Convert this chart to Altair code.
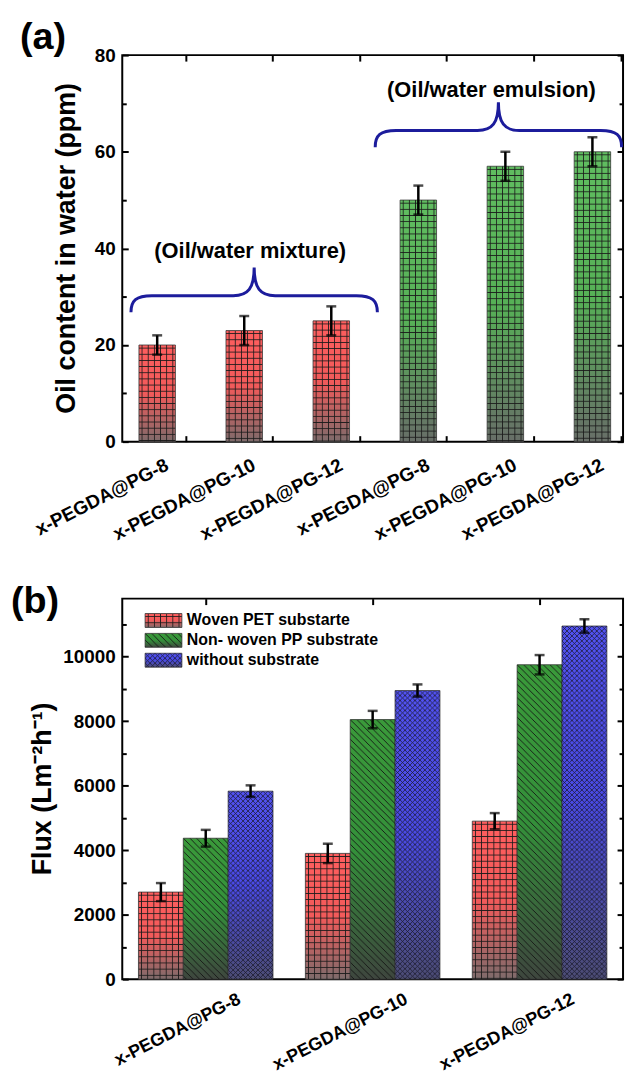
import base64
import altair as alt
import pandas as pd

# ---------------- data ----------------
# panel (a)
a_labels = ["x-PEGDA@PG-8", "x-PEGDA@PG-10", "x-PEGDA@PG-12",
            "x-PEGDA@PG-8", "x-PEGDA@PG-10", "x-PEGDA@PG-12"]
a_values = [20, 23, 25, 50, 57, 60]
a_errors = [2, 3, 3, 3, 3, 3]
a_groups = ["mixture", "mixture", "mixture", "emulsion", "emulsion", "emulsion"]
a_title = "Oil content in water (ppm)"

brace_text = ["(Oil/water mixture)", "(Oil/water emulsion)"]
brace_center_idx = [1, 4]
brace_y = [30.2, 64.4]
brace_text_y = [39.5, 72.8]

# panel (b)
b_categories = ["x-PEGDA@PG-8", "x-PEGDA@PG-10", "x-PEGDA@PG-12"]
b_series = ["Woven PET substarte", "Non- woven PP substrate", "without substrate"]
b_pet = [2700, 3900, 4900]
b_pet_err = [280, 300, 250]
b_pp = [4370, 8050, 9750]
b_pp_err = [260, 270, 300]
b_none = [5830, 8950, 10950]
b_none_err = [180, 190, 210]
b_title = "Flux (Lm\u207b\u00b2h\u207b\u00b9)"

# ---------------- styling ----------------
FONT = "Liberation Sans"
W = 504
HA = 389
HB = 383


def pattern_uri(kind):
    if kind == "grid":
        t = 6.2
        h = t / 2
        pat = (f'<pattern id="p" width="{t}" height="{t}" patternUnits="userSpaceOnUse">'
               f'<path d="M{h} 0V{t}M0 {h}H{t}" stroke="#1a1a1a" stroke-width="0.85" fill="none"/></pattern>')
    elif kind == "diag":
        t = 6.6
        pat = (f'<pattern id="p" width="{t}" height="{t}" patternUnits="userSpaceOnUse">'
               f'<path d="M0 0L{t} {t}M-1 {t-1}L1 {t+1}M{t-1} -1L{t+1} 1" stroke="#141414" '
               f'stroke-width="0.9" fill="none"/></pattern>')
    else:
        t = 5
        pat = (f'<pattern id="p" width="{t}" height="{t}" patternUnits="userSpaceOnUse">'
               f'<path d="M0 0L{t} {t}M{t} 0L0 {t}M-1 {t-1}L1 {t+1}M{t-1} -1L{t+1} 1'
               f'M-1 1L1 -1M{t-1} {t+1}L{t+1} {t-1}" stroke="#1a1a2a" stroke-width="0.75" fill="none"/></pattern>')
    svg = ('<svg xmlns="http://www.w3.org/2000/svg"><defs>' + pat +
           '</defs><rect x="0" y="0" width="100%" height="100%" fill="url(#p)"/></svg>')
    return "data:image/svg+xml;base64," + base64.b64encode(svg.encode()).decode()


URI_GRID = pattern_uri("grid")
URI_DIAG = pattern_uri("diag")
URI_CROSS = pattern_uri("cross")


def grad(top, mid, bottom):
    return alt.Gradient(
        gradient="linear", x1=0, x2=0, y1=0, y2=1,
        stops=[alt.GradientStop(offset=0, color=top),
               alt.GradientStop(offset=0.5, color=mid),
               alt.GradientStop(offset=1, color=bottom)])


G_RED = grad("#ff5e5e", "#f25a5a", "#7e6b6b")
G_GREEN_A = grad("#60bd60", "#56b056", "#686e68")
G_GREEN_B = grad("#3a9a3a", "#34903a", "#3e463e")
G_BLUE = grad("#5252f2", "#4a4ae6", "#4c4c74")
BRACE_COLOR = "#1c1c9c"

# curly-brace symbol path (unit = 1/5 of the half width, keeps the symbol's bounding box small)
BRACE = ("M-5,0.675 C-5,0.2 -4.8,0 -4.15,0 L-0.85,0 C-0.25,0 0,-0.3 0,-1.15 "
         "C0,-0.3 0.25,0 0.85,0 L4.15,0 C4.8,0 5,0.2 5,0.675")
BRACE_SIZE = (2 * 124 / 5) ** 2


def text_layer(t, x, y, size, angle=0, align="center", baseline="middle"):
    return alt.Chart(pd.DataFrame({"t": [t]})).mark_text(
        align=align, baseline=baseline, font=FONT, fontSize=size, fontWeight="bold",
        color="black", angle=angle).encode(x=alt.value(x), y=alt.value(y), text="t:N")


# ---------------- panel (a) ----------------
dfa = pd.DataFrame({"idx": list(range(len(a_values))), "value": a_values,
                    "err": a_errors, "group": a_groups})
dfa["lo"] = dfa["value"] - dfa["err"]
dfa["hi"] = dfa["value"] + dfa["err"]

xa_scale = alt.Scale(paddingInner=0.581, paddingOuter=0.167, align=0.574)
ya_scale = alt.Scale(domain=[0, 80], nice=False)
a_label_js = "[" + ",".join(f"'{s}'" for s in a_labels) + "]"
tick_a = {"condition": {"test": "datum.value % 20 === 0", "value": 6}, "value": 4}

axis_xa_main = alt.Axis(orient="bottom", offset=-HA, bandPosition=1.286, tickSize=6, tickWidth=2,
                        domain=False, grid=False, labelExpr=f"{a_label_js}[datum.value]",
                        labelAngle=-27, labelAlign="right", labelBaseline="top",
                        labelPadding=HA + 8, labelOffset=6, labelFontSize=19, title=None)
axis_ya_main = alt.Axis(orient="left", offset=-W, values=list(range(0, 81, 10)), tickSize=tick_a,
                        tickWidth=2, domain=False, grid=False,
                        labelExpr="datum.value % 20 === 0 ? datum.label : ''",
                        labelPadding=W + 1, title=None)
axis_xa_ticks = alt.Axis(orient="top", offset=-HA, bandPosition=1.286, tickSize=6, tickWidth=2,
                         domain=False, grid=False, labels=False, title=None)
axis_ya_ticks = alt.Axis(orient="right", offset=-W, values=list(range(0, 81, 10)), tickSize=tick_a,
                         tickWidth=2, domain=False, grid=False, labels=False, title=None)

base_a = alt.Chart(dfa)
red_a = dfa[dfa["group"] == "mixture"]
green_a = dfa[dfa["group"] == "emulsion"]

bars_a_red = alt.Chart(red_a).mark_bar(color=G_RED, stroke="#3a3a3a", strokeWidth=0.8).encode(
    x=alt.X("idx:O", scale=xa_scale, axis=axis_xa_main),
    y=alt.Y("value:Q", scale=ya_scale, axis=axis_ya_main))
bars_a_green = alt.Chart(green_a).mark_bar(color=G_GREEN_A, stroke="#3a3a3a", strokeWidth=0.8).encode(
    x=alt.X("idx:O", axis=None), y=alt.Y("value:Q", axis=None))
img_a = base_a.mark_image(aspect=False, width=alt.RelativeBandSize(band=1)).encode(
    x=alt.X("idx:O", axis=None), y=alt.Y("value:Q", axis=None), y2=alt.datum(0),
    url=alt.value(URI_GRID))
err_a = base_a.mark_rule(color="black", strokeWidth=2.5).encode(
    x=alt.X("idx:O", axis=axis_xa_ticks), y=alt.Y("lo:Q", axis=axis_ya_ticks), y2="hi:Q")
caps_a = base_a.transform_fold(["lo", "hi"], as_=["which", "v"]).mark_tick(
    color="black", thickness=2.5, size=10).encode(
    x=alt.X("idx:O", axis=None), y=alt.Y("v:Q", axis=None))

brace_layers = []
brace_offsets = [10, -7]
text_offsets = [6, -14]
for i in range(len(brace_text)):
    bd = pd.DataFrame({"idx": [brace_center_idx[i]], "y": [brace_y[i]],
                       "ty": [brace_text_y[i]], "t": [brace_text[i]]})
    brace_layers.append(alt.Chart(bd).mark_point(
        shape=BRACE, size=BRACE_SIZE, filled=False, stroke=BRACE_COLOR, strokeWidth=3, opacity=1,
        xOffset=brace_offsets[i]).encode(x=alt.X("idx:O", axis=None), y=alt.Y("y:Q", axis=None)))
    brace_layers.append(alt.Chart(bd).mark_text(
        font=FONT, fontSize=22, fontWeight="bold", color="black", xOffset=text_offsets[i]).encode(
        x=alt.X("idx:O", axis=None), y=alt.Y("ty:Q", axis=None), text="t:N"))

label_a = text_layer("(a)", -103, -36, 38, align="left", baseline="top")
title_a = text_layer(a_title, -56, HA / 2, 27, angle=270)

chart_a = alt.layer(bars_a_red, bars_a_green, img_a, err_a, caps_a, *brace_layers,
                    label_a, title_a).resolve_axis(
    x="independent", y="independent").properties(width=W, height=HA)

# ---------------- panel (b) ----------------
rows = []
for s, vals, errs in zip(b_series, [b_pet, b_pp, b_none], [b_pet_err, b_pp_err, b_none_err]):
    for c, v, e in zip(b_categories, vals, errs):
        rows.append({"cat": c, "series": s, "value": v, "err": e, "lo": v - e, "hi": v + e})
dfb = pd.DataFrame(rows)

xb_scale = alt.Scale(domain=b_categories, paddingInner=0.194, paddingOuter=0.097)
xob_scale = alt.Scale(domain=b_series, paddingInner=0, paddingOuter=0)
yb_scale = alt.Scale(domain=[0, 11800], nice=False)
tick_b = {"condition": {"test": "datum.value % 2000 === 0", "value": 6}, "value": 4}

axis_xb_main = alt.Axis(orient="bottom", offset=-HB, tickSize=6, tickWidth=2, domain=False, grid=False,
                        labelAngle=-27, labelAlign="right", labelBaseline="top",
                        labelPadding=HB + 5, labelOffset=30, labelFontSize=18, title=None)
axis_yb_main = alt.Axis(orient="left", offset=-W, values=list(range(0, 11001, 1000)), tickSize=tick_b,
                        tickWidth=2, domain=False, grid=False,
                        labelExpr="datum.value % 2000 === 0 ? datum.value : ''",
                        labelPadding=W + 1, title=None)
axis_xb_ticks = alt.Axis(orient="top", offset=-HB, tickSize=6, tickWidth=2, domain=False, grid=False,
                         labels=False, title=None)
axis_yb_ticks = alt.Axis(orient="right", offset=-W, values=list(range(0, 11001, 1000)), tickSize=tick_b,
                         tickWidth=2, domain=False, grid=False, labels=False, title=None)

grads_b = [G_RED, G_GREEN_B, G_BLUE]
uris_b = [URI_GRID, URI_DIAG, URI_CROSS]

layers_b = []
for i, s in enumerate(b_series):
    sub = dfb[dfb["series"] == s]
    xenc = alt.X("cat:N", scale=xb_scale, axis=axis_xb_main if i == 0 else None)
    yenc = alt.Y("value:Q", scale=yb_scale, axis=axis_yb_main if i == 0 else None)
    layers_b.append(alt.Chart(sub).mark_bar(color=grads_b[i], stroke="#333333", strokeWidth=0.8).encode(
        x=xenc, xOffset=alt.XOffset("series:N", scale=xob_scale), y=yenc))
for i, s in enumerate(b_series):
    sub = dfb[dfb["series"] == s]
    layers_b.append(alt.Chart(sub).mark_image(aspect=False, width=alt.RelativeBandSize(band=1)).encode(
        x=alt.X("cat:N", axis=None), xOffset=alt.XOffset("series:N"),
        y=alt.Y("value:Q", axis=None), y2=alt.datum(0), url=alt.value(uris_b[i])))

layers_b.append(alt.Chart(dfb).mark_rule(color="black", strokeWidth=2.5).encode(
    x=alt.X("cat:N", axis=axis_xb_ticks), xOffset=alt.XOffset("series:N"),
    y=alt.Y("lo:Q", axis=axis_yb_ticks), y2="hi:Q"))
layers_b.append(alt.Chart(dfb).transform_fold(["lo", "hi"], as_=["which", "v"]).mark_tick(
    color="black", thickness=2.5, size=10).encode(
    x=alt.X("cat:N", axis=None), xOffset=alt.XOffset("series:N"), y=alt.Y("v:Q", axis=None)))

# legend (inside the plot, top-left)
for i, s in enumerate(b_series):
    ld = pd.DataFrame({"name": [s]})
    y0 = 15 + 20 * i
    layers_b.append(alt.Chart(ld).mark_rect(color=grads_b[i], stroke="#333333", strokeWidth=0.8).encode(
        x=alt.value(23), x2=alt.value(60), y=alt.value(y0), y2=alt.value(y0 + 14)))
    layers_b.append(alt.Chart(ld).mark_image(aspect=False).encode(
        x=alt.value(23), x2=alt.value(60), y=alt.value(y0), y2=alt.value(y0 + 14),
        url=alt.value(uris_b[i])))
    layers_b.append(alt.Chart(ld).mark_text(
        align="left", baseline="middle", font=FONT, fontSize=16, fontWeight="bold", color="black").encode(
        x=alt.value(65), y=alt.value(y0 + 7), text="name:N"))

layers_b.append(text_layer("(b)", -112, -16, 38, align="left", baseline="top"))
layers_b.append(text_layer(b_title, -80, HB / 2, 27, angle=270))

chart_b = alt.layer(*layers_b).resolve_axis(x="independent", y="independent").properties(
    width=W, height=HB)

chart = alt.vconcat(chart_a, chart_b, spacing=158, bounds="flush").properties(
    padding={"left": 2, "top": 7, "right": 0, "bottom": -4}
).configure_view(stroke="black", strokeWidth=2).configure_axis(
    labelFont=FONT, labelFontWeight="bold", labelFontSize=19, labelColor="black",
    tickColor="black")

chart.save("out.html", embed_options={"renderer": "svg", "actions": False})
